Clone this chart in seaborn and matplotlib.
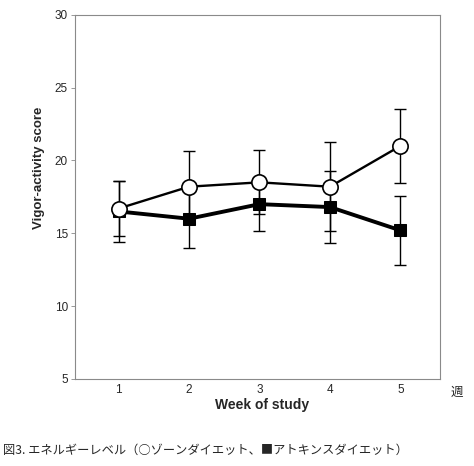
import numpy as np
import pandas as pd
import matplotlib
matplotlib.use("Agg")
import matplotlib.pyplot as plt
import seaborn as sns

# Values
weeks = [1, 2, 3, 4, 5]
zone_mean = [16.7, 18.2, 18.5, 18.2, 21.0]
zone_err = [1.9, 2.45, 2.2, 3.05, 2.55]
atkins_mean = [16.5, 16.0, 17.0, 16.8, 15.2]
atkins_err = [2.1, 2.0, 1.85, 2.5, 2.35]
y_ticks = [5, 10, 15, 20, 25, 30]

df = pd.DataFrame({
    "week": weeks * 2,
    "score": zone_mean + atkins_mean,
    "err": zone_err + atkins_err,
    "diet": ["Zone"] * 5 + ["Atkins"] * 5,
})

sns.set_style("white")
plt.rcParams["font.family"] = ["Liberation Sans", "DejaVu Sans"]

fig = plt.figure(figsize=(4.74, 4.66), dpi=100)
ax = fig.add_axes([0.158, 0.187, 0.770, 0.781])

# Atkins diet (filled squares, heavy line)
atk = df[df["diet"] == "Atkins"]
ax.errorbar(atk["week"], atk["score"], yerr=atk["err"], fmt="none",
            ecolor="black", elinewidth=1.0, capsize=4, capthick=1.0, zorder=2)
sns.lineplot(data=atk, x="week", y="score", ax=ax, color="black",
             linewidth=2.8, marker="s", markersize=9, markerfacecolor="black",
             markeredgecolor="black", zorder=3)

# Zone diet (open circles, thinner line)
zon = df[df["diet"] == "Zone"]
ax.errorbar(zon["week"], zon["score"], yerr=zon["err"], fmt="none",
            ecolor="black", elinewidth=1.0, capsize=4, capthick=1.0, zorder=4)
sns.lineplot(data=zon, x="week", y="score", ax=ax, color="black",
             linewidth=1.7, marker="o", markersize=11, markerfacecolor="white",
             markeredgecolor="black", markeredgewidth=1.2, zorder=5)

ax.set_xlim(0.38, 5.56)
ax.set_ylim(5, 30)
ax.set_xticks(weeks)
ax.set_yticks(y_ticks)
ax.tick_params(axis="x", length=0, labelsize=8.5, pad=4)
ax.tick_params(axis="y", length=3, width=0.6, color="#888888", labelsize=8.5, pad=2,
               left=True)
for s in ax.spines.values():
    s.set_color("#8a8a8a")
    s.set_linewidth(0.8)

ax.set_xlabel("Week of study", fontsize=10, fontweight="bold")
ax.set_ylabel("Vigor-activity score", fontsize=9.5, fontweight="bold")
ax.xaxis.set_label_coords(0.512, -0.052)
ax.yaxis.set_label_coords(-0.082, 0.58)

fig.text(0.964, 0.157, "週", fontsize=9, family=["Noto Sans CJK JP", "DejaVu Sans"],
         ha="center", va="center")
fig.text(0.006, 0.034, "図3. エネルギーレベル（○ゾーンダイエット、■アトキンスダイエット）",
         fontsize=8.8, family=["Noto Sans CJK JP", "DejaVu Sans"],
         ha="left", va="center")

fig.savefig("out.png", dpi=100, facecolor="white")
